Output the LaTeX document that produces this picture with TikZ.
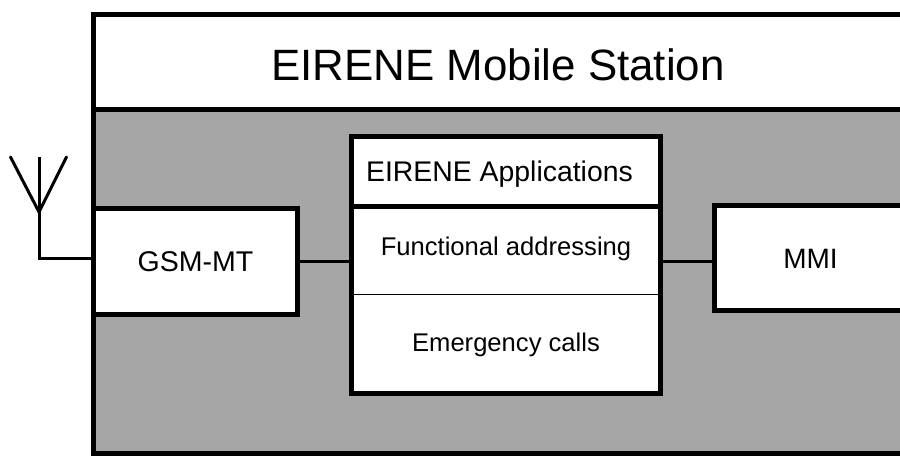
\documentclass[tikz,border=0pt]{standalone}
\usepackage{fontspec}
\setmainfont{Liberation Sans}
\definecolor{bodygray}{HTML}{A6A6A6}

\begin{document}
\begin{tikzpicture} [x=0.75pt, y=-0.75pt, node distance=3cm, block/.style={rectangle, draw, line width=3.75pt, fill=white, inner sep=0pt, outer sep=0pt, text depth=0pt}, part/.style={rectangle, inner sep=0pt, outer sep=0pt, minimum width=231.75pt, text depth=0pt, font=\fontsize{19.2}{23}\selectfont}, link/.style={line width=2.25pt}]
	\clip (0,0) rectangle (900,455);
	
	\node [block, minimum width=606.75pt, minimum height=71.6pt, text height=28.1pt, font=\fontsize{32.9}{40}\selectfont] (station_title) at (498,62.25) {EIRENE Mobile Station};
	\node [block, below of=station_title, fill=bodygray, minimum width=606.75pt, minimum height=258pt, node distance=164.8pt] (station_body) {};
	
	\node [block, minimum width=153pt, minimum height=79.5pt, text height=14.25pt, font=\fontsize{21.4}{26}\selectfont] (gsm) at (195.5,261.5) {GSM-MT};
	\node [block, minimum width=144.75pt, minimum height=79.1pt, text height=16.1pt, font=\fontsize{21}{26}\selectfont] (mmi) at (810.5,258.25) {MMI};
	
	\node [block, minimum width=231.75pt, minimum height=193.1pt] (apps) at (506,265.25) {};
	\node [block, minimum width=231.75pt, minimum height=52.5pt, text height=14.25pt, font=\fontsize{21.3}{26}\selectfont, at={(506,171.5)}] (apps_title) {\mbox{EIRENE Applications\hspace{9.75pt}}};
	\node [part, below of=apps_title, minimum height=66pt, text height=7.8pt, node distance=59.25pt] (apps_func) {Functional addressing};
	\node [part, below of=apps_func, minimum height=74.6pt, text height=11.2pt, node distance=70.3pt] (apps_emerg) {Emergency calls};
	
	% antenna
	\coordinate (ant_root) at (39,212);
	\coordinate (ant_mid) at (39,157);
	\coordinate (ant_left) at (10.5,157);
	\coordinate (ant_right) at (66.5,157);
	\coordinate (ant_foot) at (39,258);
	\draw [link, line cap=round] (ant_left) -- (ant_root) -- (ant_right);
	\draw [link] (ant_mid) -- (ant_root);
	\draw [link] (ant_root) -- (ant_foot) -- (ant_foot -| gsm.west);
	
	% draw edges
	\draw [link] (gsm.east) -- (gsm.east -| apps.west);
	\draw [link] (gsm.east -| apps.east) -- (gsm.east -| mmi.west);
	\draw [line width=1.1pt] (apps_func.south west) -- (apps_func.south east);
\end{tikzpicture}
\end{document}
